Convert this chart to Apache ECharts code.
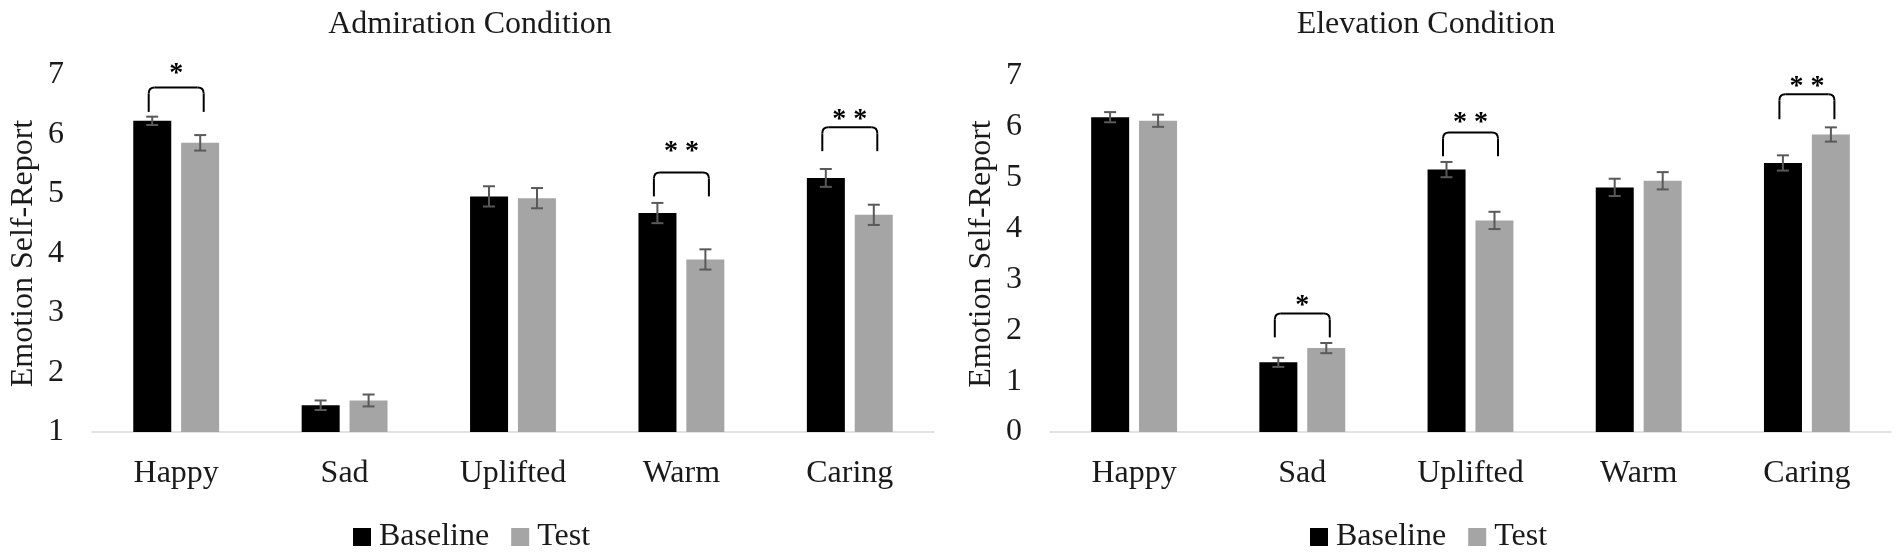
<!DOCTYPE html>
<html>
<head>
<meta charset="utf-8">
<script src="https://cdn.jsdelivr.net/npm/echarts@6/dist/echarts.min.js"></script>
<style>
  html, body { margin: 0; padding: 0; background: #fff; }
  #chart { width: 1902px; height: 555px; }
</style>
</head>
<body>
<div id="chart"></div>
<script>
const categories = ['Happy', 'Sad', 'Uplifted', 'Warm', 'Caring'];

// Admiration condition
const admBaseline = [6.23, 1.45, 4.96, 4.68, 5.27];
const admTest = [5.86, 1.53, 4.93, 3.90, 4.65];
const admBaselineErr = [0.07, 0.08, 0.17, 0.17, 0.15];
const admTestErr = [0.13, 0.10, 0.17, 0.17, 0.17];
// [category, leg bottom, bracket top, star position]
const admSig = [[0, 6.38, 6.79, 7.14], [3, 4.96, 5.36, 5.83], [4, 5.72, 6.12, 6.37]];
const admSigLabels = ['*', '* *', '* *'];

// Elevation condition
const eleBaseline = [6.19, 1.37, 5.16, 4.81, 5.29];
const eleTest = [6.12, 1.65, 4.16, 4.94, 5.85];
const eleBaselineErr = [0.10, 0.09, 0.15, 0.17, 0.15];
const eleTestErr = [0.12, 0.10, 0.17, 0.17, 0.14];
const eleSig = [[1, 1.86, 2.33, 2.61], [2, 5.42, 5.89, 6.21], [4, 6.15, 6.64, 6.93]];
const eleSigLabels = ['*', '* *', '* *'];

const admTicks = [1, 7];
const eleTicks = [0, 7];

const FONT = '"Liberation Serif", "Times New Roman", serif';
const TEXT = '#1a1a1a';
const BAR_W = 38;
const BAR_GAP = 10;

function errItem(params, api) {
  const idx = api.value(0);
  const v = api.value(1);
  const e = api.value(2);
  const off = api.value(3) * (BAR_W + BAR_GAP) / 2;
  const hi = api.coord([idx, v + e]);
  const lo = api.coord([idx, v - e]);
  const x = hi[0] + off;
  const st = { stroke: '#595959', lineWidth: 2 };
  return {
    type: 'group',
    children: [
      { type: 'line', shape: { x1: x, y1: hi[1], x2: x, y2: lo[1] }, style: st },
      { type: 'line', shape: { x1: x - 6, y1: hi[1], x2: x + 6, y2: hi[1] }, style: st },
      { type: 'line', shape: { x1: x - 6, y1: lo[1], x2: x + 6, y2: lo[1] }, style: st }
    ]
  };
}

function sigItem(labels) {
  return function (params, api) {
    const idx = api.value(0);
    const b = api.coord([idx, api.value(1)]);
    const t = api.coord([idx, api.value(2)]);
    const s = api.coord([idx, api.value(3)]);
    const half = 27.5, r = 6;
    const xl = t[0] - half, xr = t[0] + half, yt = t[1], yb = b[1];
    const st = { stroke: '#000', lineWidth: 2, fill: 'none' };
    return {
      type: 'group',
      children: [
        { type: 'line', shape: { x1: xl, y1: yb, x2: xl, y2: yt + r }, style: st },
        { type: 'bezierCurve', shape: { x1: xl, y1: yt + r, x2: xl + r, y2: yt, cpx1: xl, cpy1: yt }, style: st },
        { type: 'line', shape: { x1: xl + r, y1: yt, x2: xr - r, y2: yt }, style: st },
        { type: 'bezierCurve', shape: { x1: xr - r, y1: yt, x2: xr, y2: yt + r, cpx1: xr, cpy1: yt }, style: st },
        { type: 'line', shape: { x1: xr, y1: yt + r, x2: xr, y2: yb }, style: st },
        {
          type: 'text',
          x: t[0], y: s[1] + 7,
          style: {
            text: labels[params.dataIndex], fill: '#000',
            font: 'bold 28px ' + FONT, textAlign: 'center', textVerticalAlign: 'middle'
          }
        }
      ]
    };
  };
}

function errData(vals, errs, side) {
  return categories.map((c, i) => [i, vals[i], errs[i], side]);
}

const chart = echarts.init(document.getElementById('chart'));

const axisLabelX = { color: TEXT, fontSize: 32, fontFamily: FONT, margin: 26 };
const axisLabelY = { color: TEXT, fontSize: 32, fontFamily: FONT, margin: 28 };
const nameStyle = { color: TEXT, fontSize: 32, fontFamily: FONT };

function makeX(gi) {
  return {
    type: 'category', gridIndex: gi, data: categories,
    axisLine: { lineStyle: { color: '#d9d9d9', width: 1.5 } },
    axisTick: { show: false },
    axisLabel: axisLabelX
  };
}

function makeY(gi, ticks) {
  return {
    type: 'value', gridIndex: gi, min: ticks[0], max: ticks[1], interval: 1,
    name: 'Emotion Self-Report', nameLocation: 'middle', nameGap: 52,
    nameTextStyle: nameStyle,
    axisLine: { show: false }, axisTick: { show: false },
    splitLine: { show: false },
    axisLabel: axisLabelY
  };
}

function barSeries(name, gi, data, color) {
  return {
    name: name, type: 'bar', xAxisIndex: gi, yAxisIndex: gi, data: data,
    barWidth: BAR_W, barGap: '26%',
    itemStyle: { color: color }
  };
}

function customSeries(name, gi, data, fn) {
  return {
    name: name, type: 'custom', xAxisIndex: gi, yAxisIndex: gi,
    data: data, renderItem: fn, z: 5, clip: false, silent: true
  };
}

const legendCommon = {
  data: ['Baseline', 'Test'],
  icon: 'rect', itemWidth: 18, itemHeight: 18, itemGap: 22,
  textStyle: { color: TEXT, fontSize: 32, fontFamily: FONT, padding: [0, 0, 0, 3] },
  selectedMode: false
};

chart.setOption({
  animation: false,
  title: [
    { text: 'Admiration Condition', left: 465, textAlign: 'center', top: 4,
      textStyle: { color: TEXT, fontSize: 32, fontWeight: 'normal', fontFamily: FONT } },
    { text: 'Elevation Condition', left: 1421, textAlign: 'center', top: 4,
      textStyle: { color: TEXT, fontSize: 32, fontWeight: 'normal', fontFamily: FONT } }
  ],
  legend: [
    Object.assign({ left: 348, top: 516 }, legendCommon),
    Object.assign({ left: 1305, top: 516 }, legendCommon)
  ],
  grid: [
    { left: 92, right: 968, top: 75, bottom: 123 },
    { left: 1050, right: 11, top: 76, bottom: 123 }
  ],
  xAxis: [makeX(0), makeX(1)],
  yAxis: [makeY(0, admTicks), makeY(1, eleTicks)],
  series: [
    barSeries('Baseline', 0, admBaseline, '#000000'),
    barSeries('Test', 0, admTest, '#a5a5a5'),
    barSeries('Baseline', 1, eleBaseline, '#000000'),
    barSeries('Test', 1, eleTest, '#a5a5a5'),
    customSeries('err', 0, errData(admBaseline, admBaselineErr, -1), errItem),
    customSeries('err', 0, errData(admTest, admTestErr, 1), errItem),
    customSeries('err', 1, errData(eleBaseline, eleBaselineErr, -1), errItem),
    customSeries('err', 1, errData(eleTest, eleTestErr, 1), errItem),
    customSeries('sig', 0, admSig, sigItem(admSigLabels)),
    customSeries('sig', 1, eleSig, sigItem(eleSigLabels))
  ]
});
</script>
</body>
</html>
